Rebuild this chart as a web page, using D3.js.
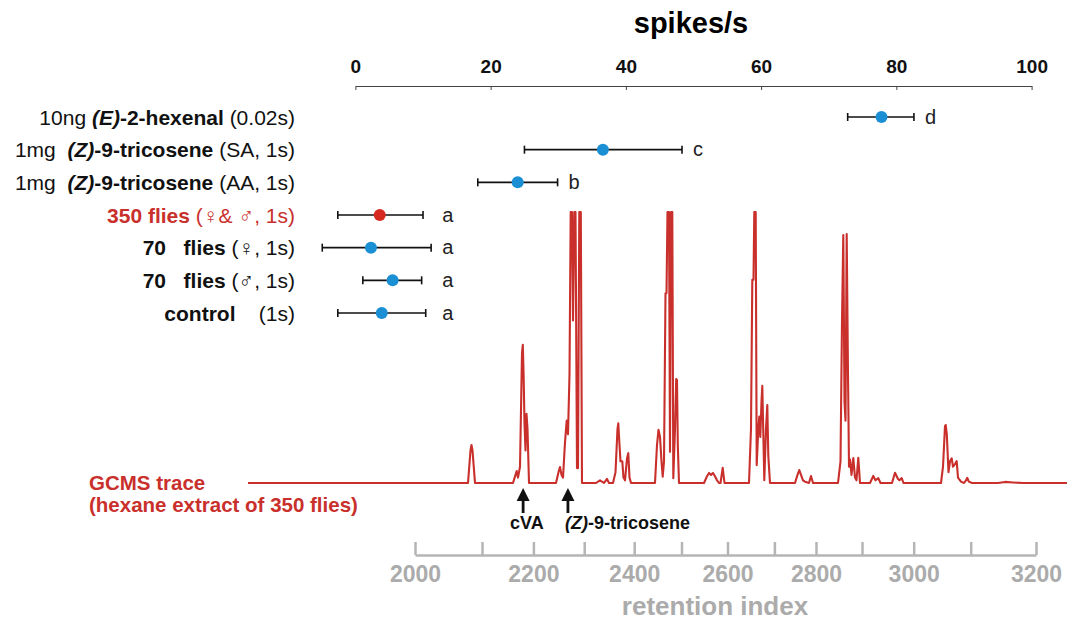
<!DOCTYPE html>
<html>
<head>
<meta charset="utf-8">
<script src="https://cdn.jsdelivr.net/npm/d3@7"></script>
<style>
  body { margin: 0; background: #fff; }
  svg text { font-family: "Liberation Sans", Arial, sans-serif; }
</style>
</head>
<body>
<div id="chart"></div>
<script>
// Single unit responses (spikes/s) to each stimulus, with +/- error range
const stimulusLabels = [
  [["10ng ", "r"], ["(E)", "bi"], ["-2-hexenal", "b"], [" (0.02s)", "r"]],
  [["1mg  ", "r"], ["(Z)", "bi"], ["-9-tricosene", "b"], [" (SA, 1s)", "r"]],
  [["1mg  ", "r"], ["(Z)", "bi"], ["-9-tricosene", "b"], [" (AA, 1s)", "r"]],
  [["350 flies", "b"], [" (\u2640& \u2642, 1s)", "r"]],
  [["70   flies", "b"], [" (\u2640, 1s)", "r"]],
  [["70   flies", "b"], [" (\u2642, 1s)", "r"]],
  [["control", "b"], ["    (1s)", "r"]]
];
const spikeMean = [77.8, 36.6, 24.0, 3.6, 2.3, 5.5, 3.9];
const spikeLow  = [72.8, 25.0, 18.1, -2.6, -4.9, 1.1, -2.6];
const spikeHigh = [82.6, 48.3, 29.9, 10.0, 11.2, 9.8, 10.4];
const sigLetters = ["d", "c", "b", "a", "a", "a", "a"];
const extractRow = 3;   // the fly extract that was also run on GC-MS
const spikeTicks = [0, 20, 40, 60, 80, 100];

// GC-MS chromatogram: [scan, abundance] (100 = detector plot ceiling)
const traceData = [
  [0, 0], [220, 0], [222.5, 12], [223.5, 14], [224.5, 12], [227, 0],
  [265, 0], [267.5, 3], [268.7, 4.4], [270, 2], [272, 6], [274, 48], [274.8, 51], [275.6, 40],
  [276.5, 22], [277.5, 12], [278.5, 25.5], [279.5, 20], [281, 0],
  [308, 0], [310.5, 4], [312, 5.9], [313.5, 3], [315, 2], [317, 15], [318.7, 23], [320, 18],
  [321.5, 40], [322.7, 140], [324, 140], [325, 60], [326.3, 140], [327.5, 140], [329, 5.5],
  [330, 5.5], [331.3, 140], [332.8, 140], [334, 0],
  [348, 0], [352, 1], [356, 0], [357, 0.5], [359, 1.5], [361, 0],
  [365, 0], [367.5, 4], [369.5, 20], [370.3, 22], [371.5, 14], [372.5, 8], [374.3, 8], [375.5, 2],
  [377, 1], [379, 9], [380.3, 11], [381.5, 2], [383, 0],
  [407, 0], [409, 14], [410.5, 19.6], [412, 17], [413.5, 8], [414.7, 2.3], [416, 8], [417.5, 70],
  [418.5, 70], [419.5, 140], [421, 140], [422, 11.5], [423, 140], [424.3, 140], [425.3, 1.8],
  [427, 20], [428.2, 38.4], [429, 38], [429.8, 14], [431, 0],
  [456, 0], [459, 2.5], [461, 3.7], [463, 3], [465, 3.7], [467, 2.5], [469, 1], [471, 0],
  [472.5, 0], [474.7, 5.6], [476.5, 0],
  [501, 0], [503, 20], [504.3, 75], [505.5, 75], [506.3, 140], [507.7, 140], [508.7, 6.6],
  [510.3, 20], [511.3, 24.5], [512.3, 17], [513.5, 30], [514.3, 35.9], [515.2, 20], [516.3, 1],
  [518, 20], [519.3, 28.8], [520.3, 10], [522, 0],
  [547, 0], [549.5, 3], [551.3, 4.8], [553, 3], [555, 1], [557, 0.5], [561, 0], [563, 2.6], [565, 0],
  [590, 0], [592.5, 8], [594, 60], [595.3, 91.5], [596.5, 30], [597.5, 23], [598.7, 91.9], [600, 40],
  [601, 6], [602, 8.7], [603.5, 3], [605.3, 9.2], [607, 2], [608.5, 1], [610.3, 9.3], [612, 0],
  [622, 0], [625.3, 2.6], [627.5, 1], [630.3, 1.8], [632.5, 0],
  [644, 0], [647, 3.8], [650, 1.5], [651.5, 1], [653.7, 1.8], [655.5, 0],
  [693, 0], [695, 6], [697, 21], [697.7, 21.4], [698.8, 18], [700.5, 4], [702, 8], [703.7, 9.1],
  [705, 6], [707, 7], [708.7, 8.1], [710, 2], [713, 0.5], [716, 0], [718, 1], [719.3, 1.9],
  [720.8, 0.5], [724, 0],
  [750, 0], [757, 0.4], [765, 0.2], [775, 0], [819, 0]
];
const traceScans = [0, 819];

// n-alkane standards: retention index and the scan where each elutes
const alkaneRI   = [2000, 2100, 2200, 2300, 2400, 2500, 2600, 2700, 2800, 2900, 3000, 3100, 3200];
const alkaneScan = [167, 234, 285.4, 336.2, 386.2, 433.5, 479.5, 526.4, 568, 614, 665.7, 722.7, 788];

// marked compounds (retention index)
const compoundRI = [2180, 2268];

const width = 1067, height = 622;
const blue = "#1b8fd4", red = "#c9302c", grey = "#b5b5b5";

const svg = d3.select("#chart").append("svg")
  .attr("width", width)
  .attr("height", height);

// ---- top panel: spikes/s ----
const x = d3.scaleLinear().domain([0, 100]).range([355.4, 1031.6]);
const y = d3.scalePoint().domain(d3.range(stimulusLabels.length)).range([117, 313]);

svg.append("text")
  .attr("x", 691).attr("y", 33)
  .attr("text-anchor", "middle")
  .style("font-size", "29px").style("font-weight", "bold")
  .text("spikes/s");

const axTop = svg.append("g")
  .attr("transform", "translate(0,86)")
  .call(d3.axisTop(x).tickValues(spikeTicks).tickSizeInner(-4).tickSizeOuter(0).tickPadding(13));
axTop.selectAll("path, line").attr("stroke", "#444");
axTop.selectAll("text")
  .style("font-family", "'Liberation Sans', Arial, sans-serif")
  .style("font-size", "19px").style("font-weight", "bold").attr("fill", "#111");

// row labels, right aligned
const labels = svg.append("g");
stimulusLabels.forEach(function (parts, i) {
  const t = labels.append("text")
    .attr("x", 295).attr("y", y(i) + 7.5)
    .attr("text-anchor", "end")
    .style("font-size", "21px")
    .style("white-space", "pre")
    .attr("fill", i === extractRow ? red : "#111");
  parts.forEach(function (p) {
    t.append("tspan")
      .style("font-weight", p[1] === "r" ? "normal" : "bold")
      .style("font-style", p[1] === "bi" ? "italic" : "normal")
      .text(p[0]);
  });
});

// error bars
const bars = svg.append("g").attr("stroke", "#111").attr("stroke-width", 1.6);
bars.selectAll(".range").data(spikeMean).enter().append("line")
  .attr("x1", (d, i) => x(spikeLow[i])).attr("x2", (d, i) => x(spikeHigh[i]))
  .attr("y1", (d, i) => y(i)).attr("y2", (d, i) => y(i));
bars.selectAll(".capLo").data(spikeMean).enter().append("line")
  .attr("x1", (d, i) => x(spikeLow[i])).attr("x2", (d, i) => x(spikeLow[i]))
  .attr("y1", (d, i) => y(i) - 4).attr("y2", (d, i) => y(i) + 4);
bars.selectAll(".capHi").data(spikeMean).enter().append("line")
  .attr("x1", (d, i) => x(spikeHigh[i])).attr("x2", (d, i) => x(spikeHigh[i]))
  .attr("y1", (d, i) => y(i) - 4).attr("y2", (d, i) => y(i) + 4);

// mean dots
svg.selectAll(".dot").data(spikeMean).enter().append("circle")
  .attr("cx", d => x(d))
  .attr("cy", (d, i) => y(i))
  .attr("r", 6)
  .attr("fill", (d, i) => i === extractRow ? "#d62a20" : blue);

// significance letters: same letter group shares one column
const letterEnd = {};
sigLetters.forEach(function (l, i) {
  letterEnd[l] = Math.max(letterEnd[l] || -Infinity, spikeHigh[i]);
});
svg.selectAll(".sig").data(sigLetters).enter().append("text")
  .attr("x", d => x(letterEnd[d]) + 11)
  .attr("y", (d, i) => y(i) + 6.5)
  .style("font-size", "20px")
  .attr("fill", "#222")
  .text(d => d);

// ---- bottom panel: GC-MS trace ----
const xt = d3.scaleLinear().domain(traceScans).range([248, 1067]);
const yt = d3.scaleLinear().domain([0, 100]).range([483, 212]).clamp(true);
const ri = d3.scaleLinear().domain(alkaneRI).range(alkaneScan.map(s => xt(s)));

svg.append("path")
  .datum(traceData)
  .attr("fill", "none")
  .attr("stroke", red)
  .attr("stroke-width", 2.1)
  .attr("stroke-linejoin", "round")
  .attr("d", d3.line().x(d => xt(d[0])).y(d => yt(d[1])));

const gcLabel = svg.append("g")
  .attr("fill", red)
  .style("font-size", "20.5px").style("font-weight", "bold");
gcLabel.append("text").attr("x", 89).attr("y", 490).text("GCMS trace");
gcLabel.append("text").attr("x", 89).attr("y", 512).text("(hexane extract of 350 flies)");

// arrows for cVA and (Z)-9-tricosene
const arrows = svg.append("g");
compoundRI.forEach(function (r) {
  const ax = ri(r);
  arrows.append("line")
    .attr("x1", ax).attr("x2", ax).attr("y1", 498).attr("y2", 513)
    .attr("stroke", "#111").attr("stroke-width", 2.8);
  arrows.append("path")
    .attr("d", `M${ax},488L${ax - 6.5},501L${ax + 6.5},501Z`)
    .attr("fill", "#111");
});
svg.append("text")
  .attr("x", ri(compoundRI[0]) - 13).attr("y", 529)
  .style("font-size", "18px").style("font-weight", "bold").attr("fill", "#111")
  .text("cVA");
const zt = svg.append("text")
  .attr("x", ri(compoundRI[1]) - 3).attr("y", 529)
  .style("font-size", "18px").style("font-weight", "bold").attr("fill", "#111");
zt.append("tspan").style("font-style", "italic").text("(Z)");
zt.append("tspan").text("-9-tricosene");

// retention index axis
const axBot = svg.append("g")
  .attr("transform", "translate(0,555)")
  .call(d3.axisBottom(ri).tickValues(alkaneRI)
    .tickFormat(d => d % 200 === 0 ? d : "")
    .tickSizeInner(-13).tickSizeOuter(0).tickPadding(11));
axBot.selectAll("path, line").attr("stroke", grey).attr("stroke-width", 2.5);
axBot.selectAll("text")
  .style("font-family", "'Liberation Sans', Arial, sans-serif")
  .style("font-size", "23px").style("font-weight", "bold").attr("fill", "#ababab");

svg.append("text")
  .attr("x", 715).attr("y", 615)
  .attr("text-anchor", "middle")
  .style("font-size", "26px").style("font-weight", "bold")
  .attr("fill", "#ababab")
  .text("retention index");
</script>
</body>
</html>
